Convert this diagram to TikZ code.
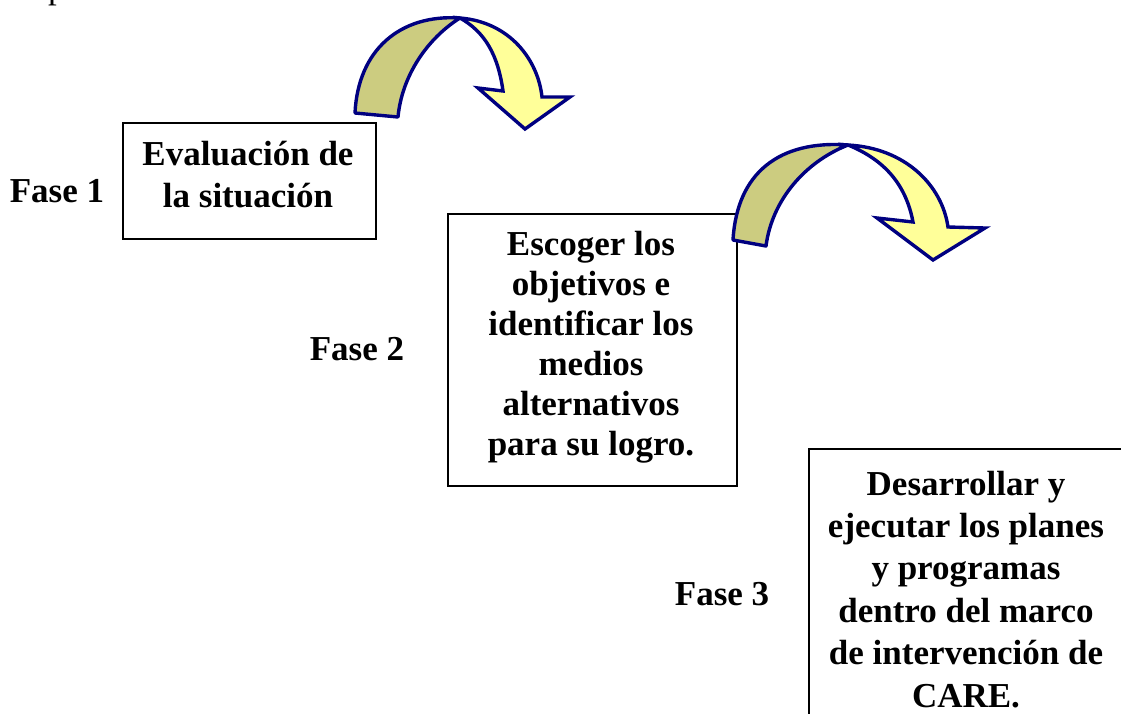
\documentclass[tikz,border=0pt]{standalone}
\usepackage{fontspec}
\setmainfont{Liberation Serif}
\definecolor{olive1}{HTML}{CCCC80}
\definecolor{yel1}{HTML}{FFFF99}
\definecolor{navy1}{HTML}{000080}
\tikzset{
 phasebox/.style={draw=black, line width=1.8pt, inner sep=0pt, anchor=north west},
 boxtext/.style={font=\fontsize{35}{#1}\selectfont\bfseries, align=center, inner sep=0pt, anchor=north},
 phaselabel/.style={font=\fontsize{35}{42}\selectfont\bfseries, inner sep=0pt, anchor=base},
 backband/.style={fill=olive1, draw=navy1, line width=3.4pt, line join=round},
 frontband/.style={fill=yel1, draw=navy1, line width=3.4pt, line join=miter},
}
\begin{document}
\begin{tikzpicture}[x=1pt,y=-1pt]
\useasboundingbox (0,0) rectangle (1121,713);
\begin{scope}
\clip (0,0) rectangle (1121,713);
\node[font=\fontsize{35}{42}\selectfont, inner sep=0pt, anchor=base west] (p) at (48,-1.5) {p};
% boxes
\node[phasebox, minimum width=253pt, minimum height=116pt] (b1) at (122,122) {};
\node[phasebox, minimum width=289pt, minimum height=272pt] (b2) at (447,213) {};
\node[phasebox, minimum width=320pt, minimum height=300pt] (b3) at (808,448) {};
% box texts
\node[boxtext=42] (t1) at (248,135.6) {\strut Evaluación de\\la situación};
\node[boxtext=40] (t2) at (591,227) {\strut Escoger los\\objetivos e\\identificar los\\medios\\alternativos\\para su logro.};
\node[boxtext=42.4] (t3) at (966,465.3) {\strut Desarrollar y\\ejecutar los planes\\y programas\\dentro del marco\\de intervención de\\CARE.};
% phase labels
\node[phaselabel] (f1) at (57,202) {Fase 1};
\node[phaselabel] (f2) at (357,360) {Fase 2};
\node[phaselabel] (f3) at (722,605) {Fase 3};
% curved arrow 1
\path[backband] (355,113) .. controls (358,50) and (400,14) .. (460,18) .. controls (428,38) and (402,75) .. (398,117) -- cycle;
\path[frontband] (460,18) .. controls (510,22) and (538,60) .. (542,97) -- (570,97) -- (525,129) -- (478,88) -- (503,91) .. controls (498,55) and (485,32) .. (460,18) -- cycle;
% curved arrow 2
\path[backband] (733,240) .. controls (737,172) and (780,140) .. (848,145) .. controls (805,162) and (772,200) .. (766,246) -- cycle;
\path[frontband] (848,145) .. controls (905,148) and (942,185) .. (948,227) -- (985,228) -- (933,260) -- (877,218) -- (913,222) .. controls (906,185) and (885,160) .. (848,145) -- cycle;
\end{scope}
\end{tikzpicture}
\end{document}
